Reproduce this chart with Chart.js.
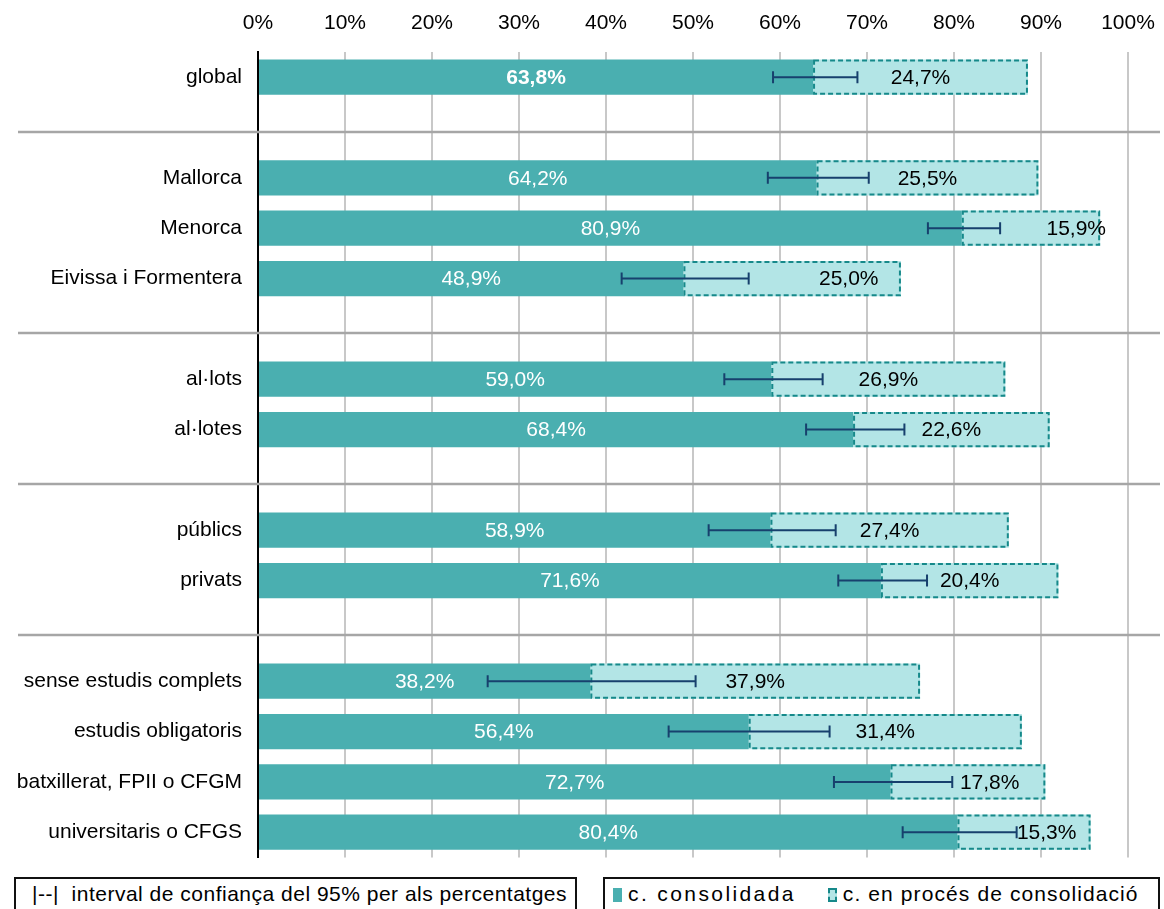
<!DOCTYPE html>
<html>
<head>
<meta charset="utf-8">
<script src="https://cdn.jsdelivr.net/npm/chart.js@4.4.0/dist/chart.umd.min.js"></script>
<style>
  body { margin: 0; background: #fff; font-family: "Liberation Sans", Arial, sans-serif; }
  #wrap { position: absolute; left: 0; top: 0; width: 1164px; height: 886px; }
  .caixa { position: absolute; top: 877px; height: 46px; border: 2px solid #111; box-sizing: border-box; background: #fff;
           font-size: 21px; color: #000; white-space: nowrap; line-height: 30px; }
  #llegenda1 { left: 14px; width: 563px; padding-left: 16px; letter-spacing: 0.5px; }
  #llegenda2 { left: 603px; width: 557px; padding-left: 8px; letter-spacing: 1.1px; }
  #llegenda2 .t1 { letter-spacing: 2.4px; }
  .clau { display: inline-block; width: 9px; height: 14px; vertical-align: -1px; margin: 0 6px 0 0; box-sizing: border-box; }
  .clau.cons { background: #4AAFB0; }
  .clau.proc { background: #B3E5E6; border: 2px dashed #16898A; margin-left: 32px; }
</style>
</head>
<body>
<div id="wrap"><canvas id="grafic" width="1164" height="886"></canvas></div>
<div class="caixa" id="llegenda1">|--|&nbsp; interval de confiança del 95% per als percentatges</div>
<div class="caixa" id="llegenda2"><span class="clau cons"></span><span class="t1">c. consolidada</span><span class="clau proc"></span>c. en procés de consolidació</div>
<script>
// files del gràfic (les buides fan de separació entre grups)
const categories = ['global', '', 'Mallorca', 'Menorca', 'Eivissa i Formentera', '',
  'al·lots', 'al·lotes', '', 'públics', 'privats', '',
  'sense estudis complets', 'estudis obligatoris', 'batxillerat, FPII o CFGM', 'universitaris o CFGS'];

const consolidada = [63.8, null, 64.2, 80.9, 48.9, null, 59.0, 68.4, null, 58.9, 71.6, null, 38.2, 56.4, 72.7, 80.4];
const enProces    = [24.7, null, 25.5, 15.9, 25.0, null, 26.9, 22.6, null, 27.4, 20.4, null, 37.9, 31.4, 17.8, 15.3];

// interval de confiança del 95% de la part consolidada
const ciBaix = [59.2, null, 58.6, 77.0, 41.8, null, 53.6, 63.0, null, 51.8, 66.7, null, 26.4, 47.2, 66.2, 74.1];
const ciAlt  = [68.9, null, 70.2, 85.3, 56.4, null, 64.9, 74.3, null, 66.4, 76.9, null, 50.3, 65.7, 79.8, 87.2];

const xTicks = [0, 10, 20, 30, 40, 50, 60, 70, 80, 90, 100];

// desplaçament (en punts %) de les etiquetes de "en procés" que no van centrades
const desplEtiqueta = [0, 0, 0, 5.2, 6.5, 0, 0, 0, 0, 0, 0, 0, 0, 0, 2.5, 2.6];

const FONT = '"Liberation Sans", Arial, sans-serif';
const fmt = v => v.toFixed(1).replace('.', ',') + '%';

const extres = {
  id: 'extres',
  beforeDatasetsDraw(chart) {
    // línies grises entre grups
    const c = chart.ctx, y = chart.scales.y;
    c.save();
    c.strokeStyle = '#A6A6A6';
    c.lineWidth = 2.5;
    categories.forEach((cat, i) => {
      if (cat !== '') return;
      const py = Math.round(y.getPixelForValue(i)) + 4;
      c.beginPath();
      c.moveTo(18, py);
      c.lineTo(chart.width - 4, py);
      c.stroke();
    });
    c.restore();
  },
  afterDatasetsDraw(chart) {
    const c = chart.ctx, x = chart.scales.x, y = chart.scales.y;
    const m0 = chart.getDatasetMeta(0), m1 = chart.getDatasetMeta(1);
    c.save();

    // vora discontínua de la part en procés
    c.strokeStyle = '#16898A';
    c.lineWidth = 2;
    c.setLineDash([5, 3]);
    m1.data.forEach((el, i) => {
      if (enProces[i] == null) return;
      const p = el.getProps(['x', 'y', 'base', 'height'], true);
      c.strokeRect(p.base + 1, p.y - p.height / 2 + 1, p.x - p.base - 2, p.height - 2);
    });
    c.setLineDash([]);

    // barres d'error
    c.strokeStyle = '#17406D';
    c.lineWidth = 2;
    ciBaix.forEach((lo, i) => {
      if (lo == null) return;
      const py = y.getPixelForValue(i);
      const a = x.getPixelForValue(lo), b = x.getPixelForValue(ciAlt[i]);
      c.beginPath();
      c.moveTo(a, py); c.lineTo(b, py);
      c.moveTo(a, py - 6); c.lineTo(a, py + 6);
      c.moveTo(b, py - 6); c.lineTo(b, py + 6);
      c.stroke();
    });

    // etiquetes de valor
    c.textAlign = 'center';
    c.textBaseline = 'middle';
    m0.data.forEach((el, i) => {
      if (consolidada[i] == null) return;
      const p = el.getProps(['x', 'y', 'base'], true);
      c.font = (i === 0 ? 'bold ' : '') + '21px ' + FONT;
      c.fillStyle = '#fff';
      c.fillText(fmt(consolidada[i]), (p.x + p.base) / 2, p.y + 1);
    });
    m1.data.forEach((el, i) => {
      if (enProces[i] == null) return;
      const p = el.getProps(['x', 'y', 'base'], true);
      const dx = x.getPixelForValue(desplEtiqueta[i]) - x.getPixelForValue(0);
      c.font = '21px ' + FONT;
      c.fillStyle = '#000';
      c.fillText(fmt(enProces[i]), (p.x + p.base) / 2 + dx, p.y + 1);
    });
    c.restore();
  }
};

const ctx = document.getElementById('grafic').getContext('2d');
new Chart(ctx, {
  type: 'bar',
  data: {
    labels: categories,
    datasets: [
      { label: 'c. consolidada', data: consolidada, backgroundColor: '#4AAFB0', borderWidth: 0 },
      { label: 'c. en procés de consolidació', data: enProces, backgroundColor: '#B3E5E6', borderWidth: 0 }
    ]
  },
  options: {
    indexAxis: 'y',
    responsive: false,
    animation: false,
    datasets: { bar: { categoryPercentage: 1, barPercentage: 0.7 } },
    layout: { padding: { left: 0, right: 36, top: 0, bottom: 13 } },
    plugins: { legend: { display: false }, tooltip: { enabled: false } },
    scales: {
      x: {
        position: 'top',
        stacked: true,
        min: 0,
        max: 100,
        afterBuildTicks: s => { s.ticks = xTicks.map(v => ({ value: v })); },
        ticks: { callback: v => v + '%', color: '#000', font: { family: FONT, size: 21 }, padding: 16, maxRotation: 0 },
        grid: { color: '#C8C8C8', lineWidth: 2, drawTicks: false },
        border: { display: false },
        afterFit: s => { s.height = 52; s.paddingLeft = 0; s.paddingRight = 0; }
      },
      y: {
        stacked: true,
        ticks: { color: '#000', font: { family: FONT, size: 21 }, padding: 16, autoSkip: false },
        grid: { display: false, drawTicks: false },
        border: { color: '#000', width: 2 },
        afterFit: s => { s.width = 258; }
      }
    }
  },
  plugins: [extres]
});
</script>
</body>
</html>
